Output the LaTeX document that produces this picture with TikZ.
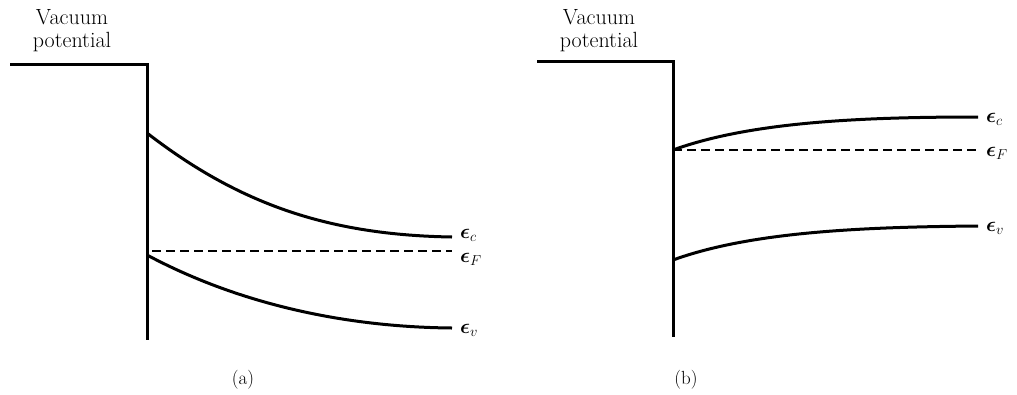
\documentclass[tikz,border=0pt]{standalone}
\usepackage{amsmath}
\begin{document}
\begin{tikzpicture}[x=1pt,y=-1pt,
  band/.style={line width=3pt},
  wall/.style={line width=3pt,line join=miter},
  fermi/.style={line width=1.5pt,dash pattern=on 9pt off 5pt},
  lbl/.style={font=\fontsize{22}{23}\selectfont,align=center,inner sep=0pt},
  elbl/.style={font=\fontsize{21}{24}\selectfont,anchor=west,inner sep=0pt},
  panellbl/.style={font=\fontsize{19}{20}\selectfont,inner sep=0pt}]
\useasboundingbox (0,0) rectangle (1017,394);
% ---------- panel (a) ----------
\node[lbl] (vaca) at (72,31) {Vacuum\\potential};
\coordinate (a0) at (10,64);
\coordinate (a1) at (147,64);
\coordinate (a2) at (147,340);
\draw[wall] (a0) -- (a1) -- (a2);
\coordinate (ca0) at (147,133);
\coordinate (ca1) at (452,237);
\draw[band] (ca0) .. controls (240,205) and (330,235) .. (ca1);
\coordinate (va0) at (147,255);
\coordinate (va1) at (452,328);
\draw[band] (va0) .. controls (235,302) and (340,327) .. (va1);
\coordinate (fa0) at (152,251);
\coordinate (fa1) at (452,251);
\draw[fermi] (fa0) -- (fa1);
\node[elbl] (eca) at (460,235) {$\boldsymbol{\epsilon}_c$};
\node[elbl] (efa) at (460,259) {$\boldsymbol{\epsilon}_F$};
\node[elbl] (eva) at (460,330) {$\boldsymbol{\epsilon}_v$};
\node[panellbl] (capa) at (243,380) {(a)};
% ---------- panel (b) ----------
\node[lbl] (vacb) at (599,31) {Vacuum\\potential};
\coordinate (b0) at (537,61);
\coordinate (b1) at (673,61);
\coordinate (b2) at (673,337);
\draw[wall] (b0) -- (b1) -- (b2);
\coordinate (cb0) at (673,150);
\coordinate (cb1) at (978,117);
\draw[band] (cb0) .. controls (750,122) and (860,117) .. (cb1);
\coordinate (vb0) at (673,260);
\coordinate (vb1) at (978,226);
\draw[band] (vb0) .. controls (750,232) and (860,227) .. (vb1);
\coordinate (fb0) at (673,150);
\coordinate (fb1) at (978,150);
\draw[fermi] (fb0) -- (fb1);
\node[elbl] (ecb) at (986,119) {$\boldsymbol{\epsilon}_c$};
\node[elbl] (efb) at (986,153) {$\boldsymbol{\epsilon}_F$};
\node[elbl] (evb) at (986,228) {$\boldsymbol{\epsilon}_v$};
\node[panellbl] (capb) at (686,380) {(b)};
\end{tikzpicture}
\end{document}
